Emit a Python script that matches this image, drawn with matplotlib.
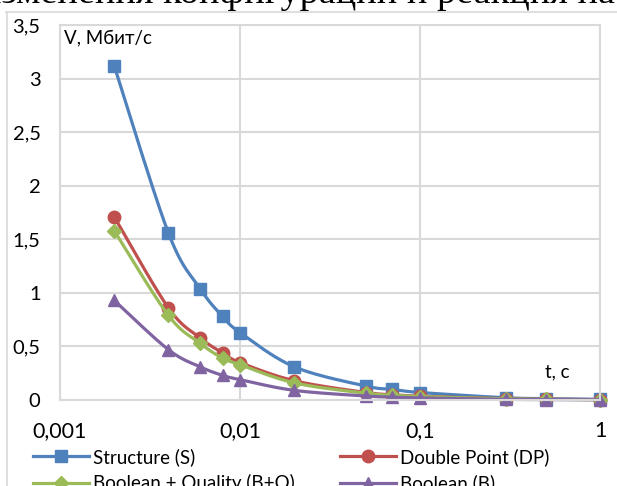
import numpy as np
import matplotlib
matplotlib.use('Agg')
import matplotlib.pyplot as plt
from matplotlib.lines import Line2D

# шрифт для подписей графика
plt.rcParams['font.family'] = ['Lato', 'DejaVu Sans']

# время, с
t = [0.002, 0.004, 0.006, 0.008, 0.01, 0.02, 0.05, 0.07, 0.1, 0.3, 0.5, 1]
# скорость, Мбит/с
structure = [3.12, 1.56, 1.04, 0.78, 0.63, 0.31, 0.13, 0.10, 0.07, 0.021, 0.013, 0.006]
double_point = [1.71, 0.86, 0.58, 0.44, 0.35, 0.18, 0.07, 0.05, 0.035, 0.012, 0.007, 0.004]
bool_quality = [1.58, 0.79, 0.53, 0.39, 0.33, 0.16, 0.063, 0.045, 0.032, 0.011, 0.006, 0.003]
boolean = [0.93, 0.47, 0.31, 0.23, 0.19, 0.09, 0.037, 0.027, 0.019, 0.006, 0.004, 0.002]

names = ['Structure (S)', 'Double Point (DP)', 'Boolean + Quality (B+Q)', 'Boolean (B)']
colors = ['#4F81BD', '#C0504D', '#9BBB59', '#8064A2']
markers = ['s', 'o', 'D', '^']
msizes = [8.5, 9, 7.5, 9]

x_ticks = [0.001, 0.01, 0.1, 1]
x_labels = ['0,001', '0,01', '0,1', '1']
y_ticks = [0, 0.5, 1, 1.5, 2, 2.5, 3, 3.5]
y_labels = ['0', '0,5', '1', '1,5', '2', '2,5', '3', '3,5']

GRID = '#d9d9d9'


def smooth(x, y, n=25):
    '''сглаженная линия как в Excel (кривые Безье в лог. масштабе)'''
    pts = np.column_stack([np.log10(x), y])
    p = np.vstack([pts[0], pts, pts[-1]])
    s = np.linspace(0, 1, n)[:, None]
    out = []
    for i in range(1, len(p) - 2):
        p0, p1, p2, p3 = p[i - 1], p[i], p[i + 1], p[i + 2]
        c1 = p1 + (p2 - p0) / 6
        c2 = p2 - (p3 - p1) / 6
        seg = (1 - s) ** 3 * p1 + 3 * (1 - s) ** 2 * s * c1 + 3 * (1 - s) * s ** 2 * c2 + s ** 3 * p2
        out.append(seg)
    out = np.vstack(out)
    return 10 ** out[:, 0], out[:, 1]


fig = plt.figure(figsize=(6.17, 4.86), dpi=100, facecolor='white')

# кусок текста документа над диаграммой
fig.text(615 / 617, 1 - 3 / 486, 'изменения конфигураций и реакция на',
         ha='right', va='baseline', fontsize=27.5, family='Liberation Serif', color='black')

# рамка диаграммы
fig.add_artist(Line2D([6 / 617, 1], [1 - 12 / 486, 1 - 12 / 486], color=GRID, lw=1.2,
                      transform=fig.transFigure))
fig.add_artist(Line2D([7 / 617, 7 / 617], [0, 1 - 12 / 486], color=GRID, lw=1.2,
                      transform=fig.transFigure))

ax = fig.add_axes([60 / 617, 86 / 486, 540 / 617, 375 / 486])
series = [structure, double_point, bool_quality, boolean]
for vals, c, m, ms in zip(series, colors, markers, msizes):
    sx, sy = smooth(t, vals)
    ax.plot(sx, sy, color=c, lw=2.3, solid_capstyle='round', clip_on=False)
    ax.plot(t, vals, linestyle='none', marker=m, ms=ms, color=c, mec=c, clip_on=False)

ax.set_xscale('log')
ax.set_xlim(0.001, 1)
ax.set_ylim(0, 3.5)
ax.set_xticks(x_ticks)
ax.set_xticklabels(x_labels)
ax.set_yticks(y_ticks)
ax.set_yticklabels(y_labels)
ax.minorticks_off()
ax.tick_params(axis='x', length=0, pad=15, labelsize=15.5)
ax.tick_params(axis='y', length=0, pad=14, labelsize=14.5)
ax.grid(True, color=GRID, lw=1.5)
ax.set_axisbelow(True)
for sp in ax.spines.values():
    sp.set_color(GRID)
    sp.set_linewidth(1.5)

# подписи осей внутри области
ax.text(0.008, 0.965, 'V, Мбит/с', transform=ax.transAxes, ha='left', va='center', fontsize=13.5)
ax.text(0.898, 0.075, 't, c', transform=ax.transAxes, ha='left', va='center', fontsize=13.5)

# легенда внизу (обрезана краем), заполняется по строкам
order = [0, 2, 1, 3]
handles = [Line2D([], [], color=colors[i], lw=2.3, marker=markers[i], ms=msizes[i], mec=colors[i])
           for i in order]
fig.legend(handles, [names[i] for i in order], ncol=2, loc='upper left',
           bbox_to_anchor=(33 / 617, 1 - 448 / 486),
           frameon=False, fontsize=13.5, borderpad=0, borderaxespad=0, handlelength=3.0,
           handletextpad=0.2, columnspacing=2.4, labelspacing=0.45)

plt.savefig('out.png', dpi=100, facecolor='white')
